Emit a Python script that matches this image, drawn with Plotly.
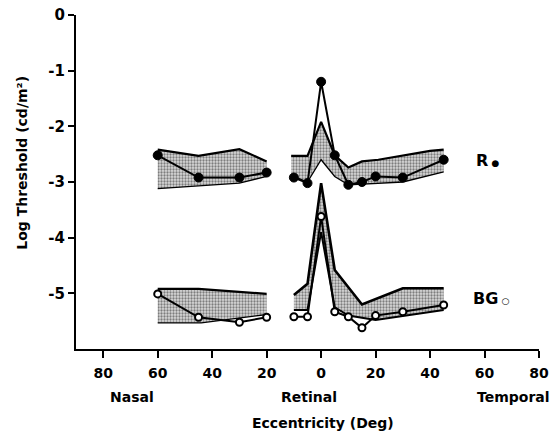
import plotly.graph_objects as go

# ---- data ----
# Red-sensitive ("R", filled circles)
r_nasal_x = [-60, -45, -30, -20]
r_nasal_y = [-2.52, -2.92, -2.92, -2.83]
r_center_x = [-10, -5, 0, 5, 10, 15, 20, 30, 45]
r_center_y = [-2.92, -3.02, -1.20, -2.52, -3.05, -3.00, -2.90, -2.92, -2.60]

# Blue-green ("BG", open circles)
bg_nasal_x = [-60, -45, -30, -20]
bg_nasal_y = [-5.01, -5.43, -5.52, -5.43]
bg_center_x = [-10, -5, 0, 5, 10, 15, 20, 30, 45]
bg_center_y = [-5.42, -5.42, -3.62, -5.33, -5.42, -5.62, -5.40, -5.33, -5.21]

# Shaded normal ranges (upper / lower edges)
r_nasal_up_x = [-60, -45, -30, -20]
r_nasal_up_y = [-2.42, -2.53, -2.41, -2.63]
r_nasal_lo_x = [-60, -30, -20]
r_nasal_lo_y = [-3.12, -3.02, -2.90]

r_center_up_x = [-11, -5, 0, 5, 10, 15, 21, 40, 45]
r_center_up_y = [-2.53, -2.53, -1.92, -2.52, -2.74, -2.63, -2.60, -2.44, -2.42]
r_center_lo_x = [-11, -5, 0, 5, 10, 30, 45]
r_center_lo_y = [-2.88, -3.00, -2.60, -2.90, -3.05, -3.00, -2.82]

bg_nasal_up_x = [-60, -45, -20]
bg_nasal_up_y = [-4.92, -4.92, -5.01]
bg_nasal_lo_x = [-60, -44, -20]
bg_nasal_lo_y = [-5.53, -5.53, -5.38]

bg_center_up_x = [-10, -5, 0, 5, 15, 30, 45]
bg_center_up_y = [-5.03, -4.83, -3.02, -4.58, -5.20, -4.91, -4.91]
bg_center_lo_x = [-10, -5, 0, 5, 10, 20, 45]
bg_center_lo_y = [-5.30, -5.30, -3.90, -5.25, -5.40, -5.48, -5.30]

x_tickvals = [-80, -60, -40, -20, 0, 20, 40, 60, 80]
x_ticktext = ["80", "60", "40", "20", "0", "20", "40", "60", "80"]
y_tickvals = [0, -1, -2, -3, -4, -5]
y_ticktext = ["0", "-1", "-2", "-3", "-4", "-5"]

FONT = "DejaVu Sans"

fig = go.Figure()


def add_band(ux, uy, lx, ly, up_w=2.2, lo_w=1.3):
    px = list(ux) + list(reversed(lx))
    py = list(uy) + list(reversed(ly))
    fig.add_trace(go.Scatter(
        x=px + [px[0]], y=py + [py[0]], mode="lines", fill="toself",
        line=dict(width=0, color="rgba(0,0,0,0)"),
        fillcolor="#d0d0d0",
        fillpattern=dict(shape=".", fgcolor="#222222", bgcolor="#d8d8d8",
                         size=3, solidity=0.45, fillmode="overlay"),
        hoverinfo="skip", showlegend=False))
    fig.add_trace(go.Scatter(x=ux, y=uy, mode="lines",
                             line=dict(color="black", width=up_w),
                             hoverinfo="skip", showlegend=False))
    fig.add_trace(go.Scatter(x=lx, y=ly, mode="lines",
                             line=dict(color="black", width=lo_w),
                             hoverinfo="skip", showlegend=False))


add_band(r_nasal_up_x, r_nasal_up_y, r_nasal_lo_x, r_nasal_lo_y)
add_band(r_center_up_x, r_center_up_y, r_center_lo_x, r_center_lo_y)
add_band(bg_nasal_up_x, bg_nasal_up_y, bg_nasal_lo_x, bg_nasal_lo_y)
add_band(bg_center_up_x, bg_center_up_y, bg_center_lo_x, bg_center_lo_y,
         up_w=2.6, lo_w=2.0)

filled = dict(symbol="circle", size=9, color="black",
              line=dict(color="black", width=1))
opened = dict(symbol="circle", size=7, color="white",
              line=dict(color="black", width=2))

for xs, ys, mk in [(r_nasal_x, r_nasal_y, filled),
                   (r_center_x, r_center_y, filled),
                   (bg_nasal_x, bg_nasal_y, opened),
                   (bg_center_x, bg_center_y, opened)]:
    fig.add_trace(go.Scatter(x=xs, y=ys, mode="lines+markers",
                             line=dict(color="black", width=2),
                             marker=mk, showlegend=False))

annotations = [
    dict(text="Log Threshold (cd/m²)", xref="paper", yref="paper",
         x=-0.117, y=0.557, textangle=-90, showarrow=False,
         xanchor="center", yanchor="middle",
         font=dict(family=FONT, size=14, color="black", weight="bold")),
    dict(text="Nasal", xref="x", yref="paper", x=-69.5, y=0, yshift=-48,
         showarrow=False, xanchor="center", yanchor="middle",
         font=dict(family=FONT, size=14, color="black", weight="bold")),
    dict(text="Retinal", xref="x", yref="paper", x=-4.3, y=0, yshift=-48,
         showarrow=False, xanchor="center", yanchor="middle",
         font=dict(family=FONT, size=14, color="black", weight="bold")),
    dict(text="Temporal", xref="x", yref="paper", x=70.7, y=0, yshift=-48,
         showarrow=False, xanchor="center", yanchor="middle",
         font=dict(family=FONT, size=14, color="black", weight="bold")),
    dict(text="Eccentricity (Deg)", xref="x", yref="paper", x=0.8, y=0,
         yshift=-74, showarrow=False, xanchor="center", yanchor="middle",
         font=dict(family=FONT, size=14, color="black", weight="bold")),
    dict(text="R<span style='font-size:9px'> ●</span>", xref="x", yref="y",
         x=56.0, y=-2.62, showarrow=False, xanchor="left", yanchor="middle",
         font=dict(family=FONT, size=16, color="black", weight="bold")),
    dict(text="BG<span style='font-size:9px'> ○</span>", xref="x", yref="y",
         x=55.0, y=-5.1, showarrow=False, xanchor="left", yanchor="middle",
         font=dict(family=FONT, size=16, color="black", weight="bold")),
]

fig.update_layout(
    width=558, height=432,
    margin=dict(l=76, r=19, t=15, b=83, autoexpand=False),
    paper_bgcolor="white", plot_bgcolor="white",
    showlegend=False,
    annotations=annotations,
    xaxis=dict(range=[-90, 80], tickvals=x_tickvals, ticktext=x_ticktext,
               showgrid=False, zeroline=False, showline=True,
               linecolor="black", linewidth=2, ticks="outside", ticklen=7,
               tickwidth=2, tickcolor="black", automargin=False,
               ticklabelstandoff=3,
               tickfont=dict(family=FONT, size=14, color="black",
                             weight="bold")),
    yaxis=dict(range=[-6, 0], tickvals=y_tickvals, ticktext=y_ticktext,
               showgrid=False, zeroline=False, showline=True,
               linecolor="black", linewidth=2, ticks="outside", ticklen=6,
               tickwidth=2, tickcolor="black", automargin=False,
               tickfont=dict(family=FONT, size=15, color="black",
                             weight="bold")),
)

fig.write_html(
    "out.html",
    config={"displayModeBar": False},
    post_script="document.body.style.margin='0';document.body.style.padding='0';",
)
